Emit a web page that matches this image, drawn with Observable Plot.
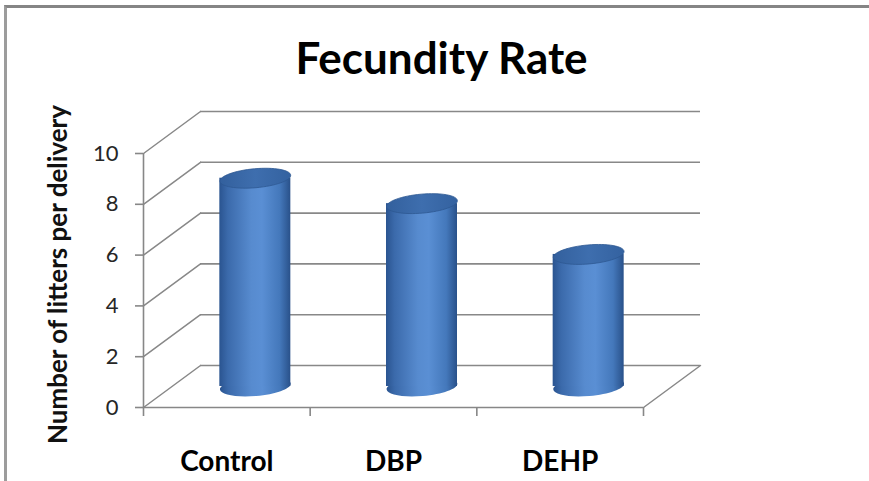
<!DOCTYPE html>
<html><head><meta charset="utf-8">
<script src="https://cdn.jsdelivr.net/npm/d3@7"></script>
<script src="https://cdn.jsdelivr.net/npm/@observablehq/plot@0.6"></script>
<style>
html,body{margin:0;padding:0;background:#fff;overflow:hidden;}
#wrap{position:relative;width:869px;height:481px;overflow:hidden;background:#fff;}
#frame{position:absolute;left:4px;top:5px;width:900px;height:520px;border-top:3px solid #858585;border-left:3px solid #9c9c9c;pointer-events:none;}
</style></head><body>
<div id="wrap"><div id="chart"></div><div id="frame"></div></div>
<script>
// ---- data ----
const categories = ["Control", "DBP", "DEHP"];
const values = [8.2, 7.2, 5.2];
const yTicks = [0, 2, 4, 6, 8, 10];
const boundaryTicks = [0, 1, 2, 3];
const title = "Fecundity Rate";
const yLabel = "Number of litters per delivery";

const rows = categories.map((c, i) => ({c, i, v: values[i]}));

// ---- 3-D styling (pixels) ----
const depthX = 57, depthY = 42;
const vecLen = Math.hypot(depthX, depthY);
const vecAngle = Math.atan2(depthX, depthY) * 180 / Math.PI;
const gridColor = "#888888";
const axisColor = "#878787";

const lineShape = {draw(ctx, l) { ctx.moveTo(0, 0); ctx.lineTo(0, -l); }};

function ellipseSymbol(rx, ry, deg) {
  const a = deg * Math.PI / 180, c = Math.cos(a), s = Math.sin(a), k = 0.5523;
  const P = (x, y) => [x * c - y * s, x * s + y * c];
  return {draw(ctx) {
    ctx.moveTo(...P(rx, 0));
    ctx.bezierCurveTo(...P(rx, ry * k), ...P(rx * k, ry), ...P(0, ry));
    ctx.bezierCurveTo(...P(-rx * k, ry), ...P(-rx, ry * k), ...P(-rx, 0));
    ctx.bezierCurveTo(...P(-rx, -ry * k), ...P(-rx * k, -ry), ...P(0, -ry));
    ctx.bezierCurveTo(...P(rx * k, -ry), ...P(rx, -ry * k), ...P(rx, 0));
    ctx.closePath();
  }};
}
const cap = ellipseSymbol(35.5, 9.5, -5);
const inset = (500 / 3 - 71) / 2;

const svg = Plot.plot({
  width: 869, height: 481,
  marginLeft: 143, marginRight: 226, marginTop: 153, marginBottom: 74,
  x: {domain: [0, 3], axis: null},
  y: {domain: [0, 10], axis: null},
  style: {fontFamily: "Lato", background: "transparent", color: "#222"},
  marks: [
    // back wall gridlines
    Plot.ruleY(yTicks, {dx: depthX, dy: -depthY, stroke: gridColor, strokeWidth: 1.6}),
    // side-wall diagonals
    Plot.vector(yTicks, {x: 0, y: d => d, length: vecLen, rotate: vecAngle, anchor: "start", shape: lineShape, stroke: gridColor, strokeWidth: 1.5}),
    Plot.vector([0], {x: 3, y: d => d, length: vecLen, rotate: vecAngle, anchor: "start", shape: lineShape, stroke: gridColor, strokeWidth: 1.5}),
    // front axes
    Plot.ruleX([0], {stroke: axisColor, strokeWidth: 1.6}),
    Plot.ruleY([0], {stroke: axisColor, strokeWidth: 1.6}),
    Plot.axisY({ticks: yTicks, tickSize: 8, tickPadding: 17, fontSize: 22, stroke: axisColor, strokeWidth: 1.6, fill: "#262626", label: null}),
    Plot.axisX({ticks: boundaryTicks, tickSize: 9, tickFormat: () => "", stroke: axisColor, strokeWidth: 1.6, label: null}),
    // cylinders
    Plot.dot(rows, {x: d => d.i + 0.5, y: () => 0, dx: depthX / 2, dy: -depthY / 2, r: 10, symbol: cap, fill: "url(#cylBody)"}),
    Plot.rect(rows, {x1: d => d.i, x2: d => d.i + 1, y1: () => 0, y2: "v", dx: depthX / 2, dy: -depthY / 2, insetLeft: inset, insetRight: inset, fill: "url(#cylBody)"}),
    Plot.dot(rows, {x: d => d.i + 0.5, y: "v", dx: depthX / 2, dy: -depthY / 2, r: 10, symbol: cap, fill: "url(#cylTop)", stroke: "#2d5892", strokeWidth: 0.8}),
    // texts
    Plot.text(rows, {x: d => d.i + 0.5, frameAnchor: "bottom", lineAnchor: "middle", text: "c", dy: 55, fontSize: 28, fontWeight: "bold", fill: "#000"}),
    Plot.text([yLabel], {frameAnchor: "left", textAnchor: "middle", lineAnchor: "middle", rotate: -90, dx: -85, dy: -6, fontSize: 26, fontWeight: "bold", fill: "#111"}),
    Plot.text([title], {frameAnchor: "top", textAnchor: "middle", lineAnchor: "middle", dx: 48, dy: -94, fontSize: 44, fontWeight: "bold", fill: "#000"})
  ]
});

const defs = d3.select(svg).insert("defs", ":first-child");
const g1 = defs.append("linearGradient").attr("id", "cylBody").attr("x1", 0).attr("x2", 1).attr("y1", 0).attr("y2", 0);
[[0, "#2a5490"], [0.12, "#3b6aab"], [0.45, "#578bcf"], [0.6, "#5a8fd4"], [0.85, "#4478bb"], [1, "#29518a"]]
  .forEach(([o, c]) => g1.append("stop").attr("offset", o).attr("stop-color", c));
const g2 = defs.append("linearGradient").attr("id", "cylTop").attr("x1", 0).attr("x2", 1).attr("y1", 0).attr("y2", 0);
[[0, "#33609d"], [0.5, "#3e6eae"], [1, "#3462a0"]]
  .forEach(([o, c]) => g2.append("stop").attr("offset", o).attr("stop-color", c));

document.getElementById("chart").appendChild(svg);
</script>
</body></html>
